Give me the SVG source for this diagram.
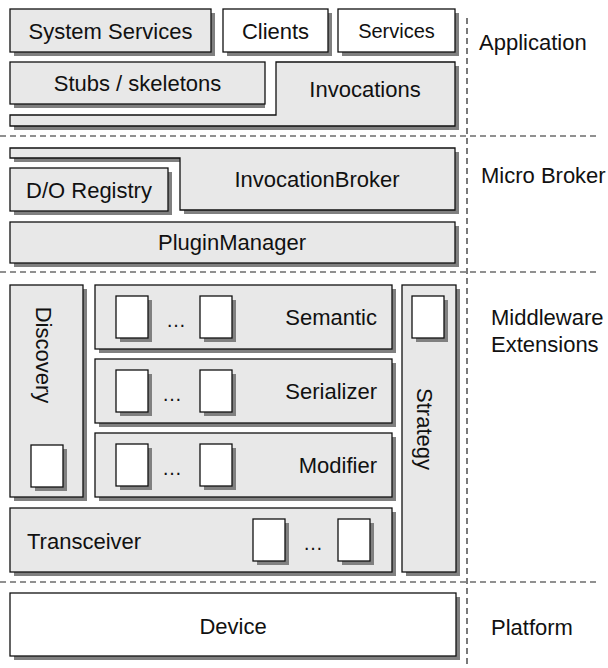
<svg xmlns="http://www.w3.org/2000/svg" width="608" height="668" viewBox="0 0 608 668">
<style>
.sh{fill:#808080;stroke:none}
.g{fill:#e8e8e8;stroke:#111;stroke-width:1.3}
.w{fill:#fff;stroke:#111;stroke-width:1.3}
.dash{stroke:#222;stroke-width:1.2;stroke-dasharray:6 4;fill:none}
text{font-family:"Liberation Sans",Arial,sans-serif;font-size:22px;fill:#111}
.m{text-anchor:middle}
.e{text-anchor:end}
.dots{font-size:20px}
</style>
<defs>
<g id="sb"><rect class="sh" x="4" y="4" width="32" height="42"/><rect class="w" x="0" y="0" width="32" height="42"/></g>
</defs>
<g id="separators">
<line class="dash" x1="0" y1="136" x2="597" y2="136"/>
<line class="dash" x1="0" y1="272" x2="597" y2="272"/>
<line class="dash" x1="0" y1="582" x2="597" y2="582"/>
<line class="dash" x1="467" y1="18" x2="467" y2="666"/>
</g>
<g id="system-services"><rect class="sh" x="14" y="13" width="201" height="43"/><rect class="g" x="10" y="9" width="201" height="43"/><text class="m" x="110.5" y="38.5">System Services</text></g>
<g id="clients"><rect class="sh" x="227" y="13" width="105" height="43"/><rect class="w" x="223" y="9" width="105" height="43"/><text class="m" x="275.5" y="38.5">Clients</text></g>
<g id="services"><rect class="sh" x="342" y="13" width="117" height="43"/><rect class="w" x="338" y="9" width="117" height="43"/><text class="m" x="396.5" y="37.5" style="font-size:20px">Services</text></g>
<g id="invocations"><polygon class="sh" points="14,119 280,119 280,66 459,66 459,130 14,130"/><polygon class="g" points="10,115 276,115 276,62 455,62 455,126 10,126"/><text class="m" x="365" y="97">Invocations</text></g>
<g id="stubs"><rect class="sh" x="14" y="66" width="251" height="42"/><rect class="g" x="10" y="62" width="255" height="42"/><text class="m" x="137.5" y="91">Stubs / skeletons</text></g>
<g id="application-label"><text x="479" y="50">Application</text></g>
<g id="invocation-broker"><polygon class="sh" points="14,152 459,152 459,214 184,214 184,162 14,162"/><polygon class="g" points="10,148 455,148 455,210 180,210 180,158 10,158"/><text class="m" x="317" y="187">InvocationBroker</text></g>
<g id="do-registry"><rect class="sh" x="14" y="172" width="158" height="43"/><rect class="g" x="10" y="168" width="158" height="43"/><text class="m" x="89" y="197.5">D/O Registry</text></g>
<g id="plugin-manager"><rect class="sh" x="14" y="226" width="445" height="41"/><rect class="g" x="10" y="222" width="445" height="41"/><text class="m" x="232" y="250">PluginManager</text></g>
<g id="microbroker-label"><text x="481" y="183">Micro Broker</text></g>
<g id="discovery"><rect class="sh" x="14" y="289" width="73" height="212"/><rect class="g" x="10" y="285" width="73" height="212"/><text class="m" transform="translate(44,355) rotate(90)" y="8">Discovery</text><use href="#sb" x="31" y="445"/></g>
<g id="semantic"><rect class="sh" x="99" y="289" width="297" height="64"/><rect class="g" x="95" y="285" width="297" height="64"/><use href="#sb" x="116" y="296"/><text class="m dots" x="176" y="327">…</text><use href="#sb" x="200" y="296"/><text class="e" x="377" y="325">Semantic</text></g>
<g id="serializer"><rect class="sh" x="99" y="363" width="297" height="64"/><rect class="g" x="95" y="359" width="297" height="64"/><use href="#sb" x="116" y="370"/><text class="m dots" x="172" y="401">…</text><use href="#sb" x="200" y="370"/><text class="e" x="377" y="399">Serializer</text></g>
<g id="modifier"><rect class="sh" x="99" y="437" width="297" height="64"/><rect class="g" x="95" y="433" width="297" height="64"/><use href="#sb" x="116" y="444"/><text class="m dots" x="172" y="475">…</text><use href="#sb" x="200" y="444"/><text class="e" x="377" y="473">Modifier</text></g>
<g id="strategy"><rect class="sh" x="406" y="289" width="54" height="287"/><rect class="g" x="402" y="285" width="54" height="287"/><use href="#sb" x="412" y="296"/><text class="m" transform="translate(425,429) rotate(90)" y="8">Strategy</text></g>
<g id="transceiver"><rect class="sh" x="14" y="512" width="382" height="64"/><rect class="g" x="10" y="508" width="382" height="64"/><text x="27" y="549">Transceiver</text><use href="#sb" x="253" y="519"/><text class="m dots" x="313" y="550">…</text><use href="#sb" x="338" y="519"/></g>
<g id="middleware-label"><text x="491" y="325">Middleware</text><text x="491" y="352">Extensions</text></g>
<g id="device"><rect class="sh" x="14" y="597" width="446" height="63"/><rect class="w" x="10" y="593" width="446" height="63"/><text class="m" x="233" y="634">Device</text></g>
<g id="platform-label"><text x="491" y="635">Platform</text></g>
</svg>
